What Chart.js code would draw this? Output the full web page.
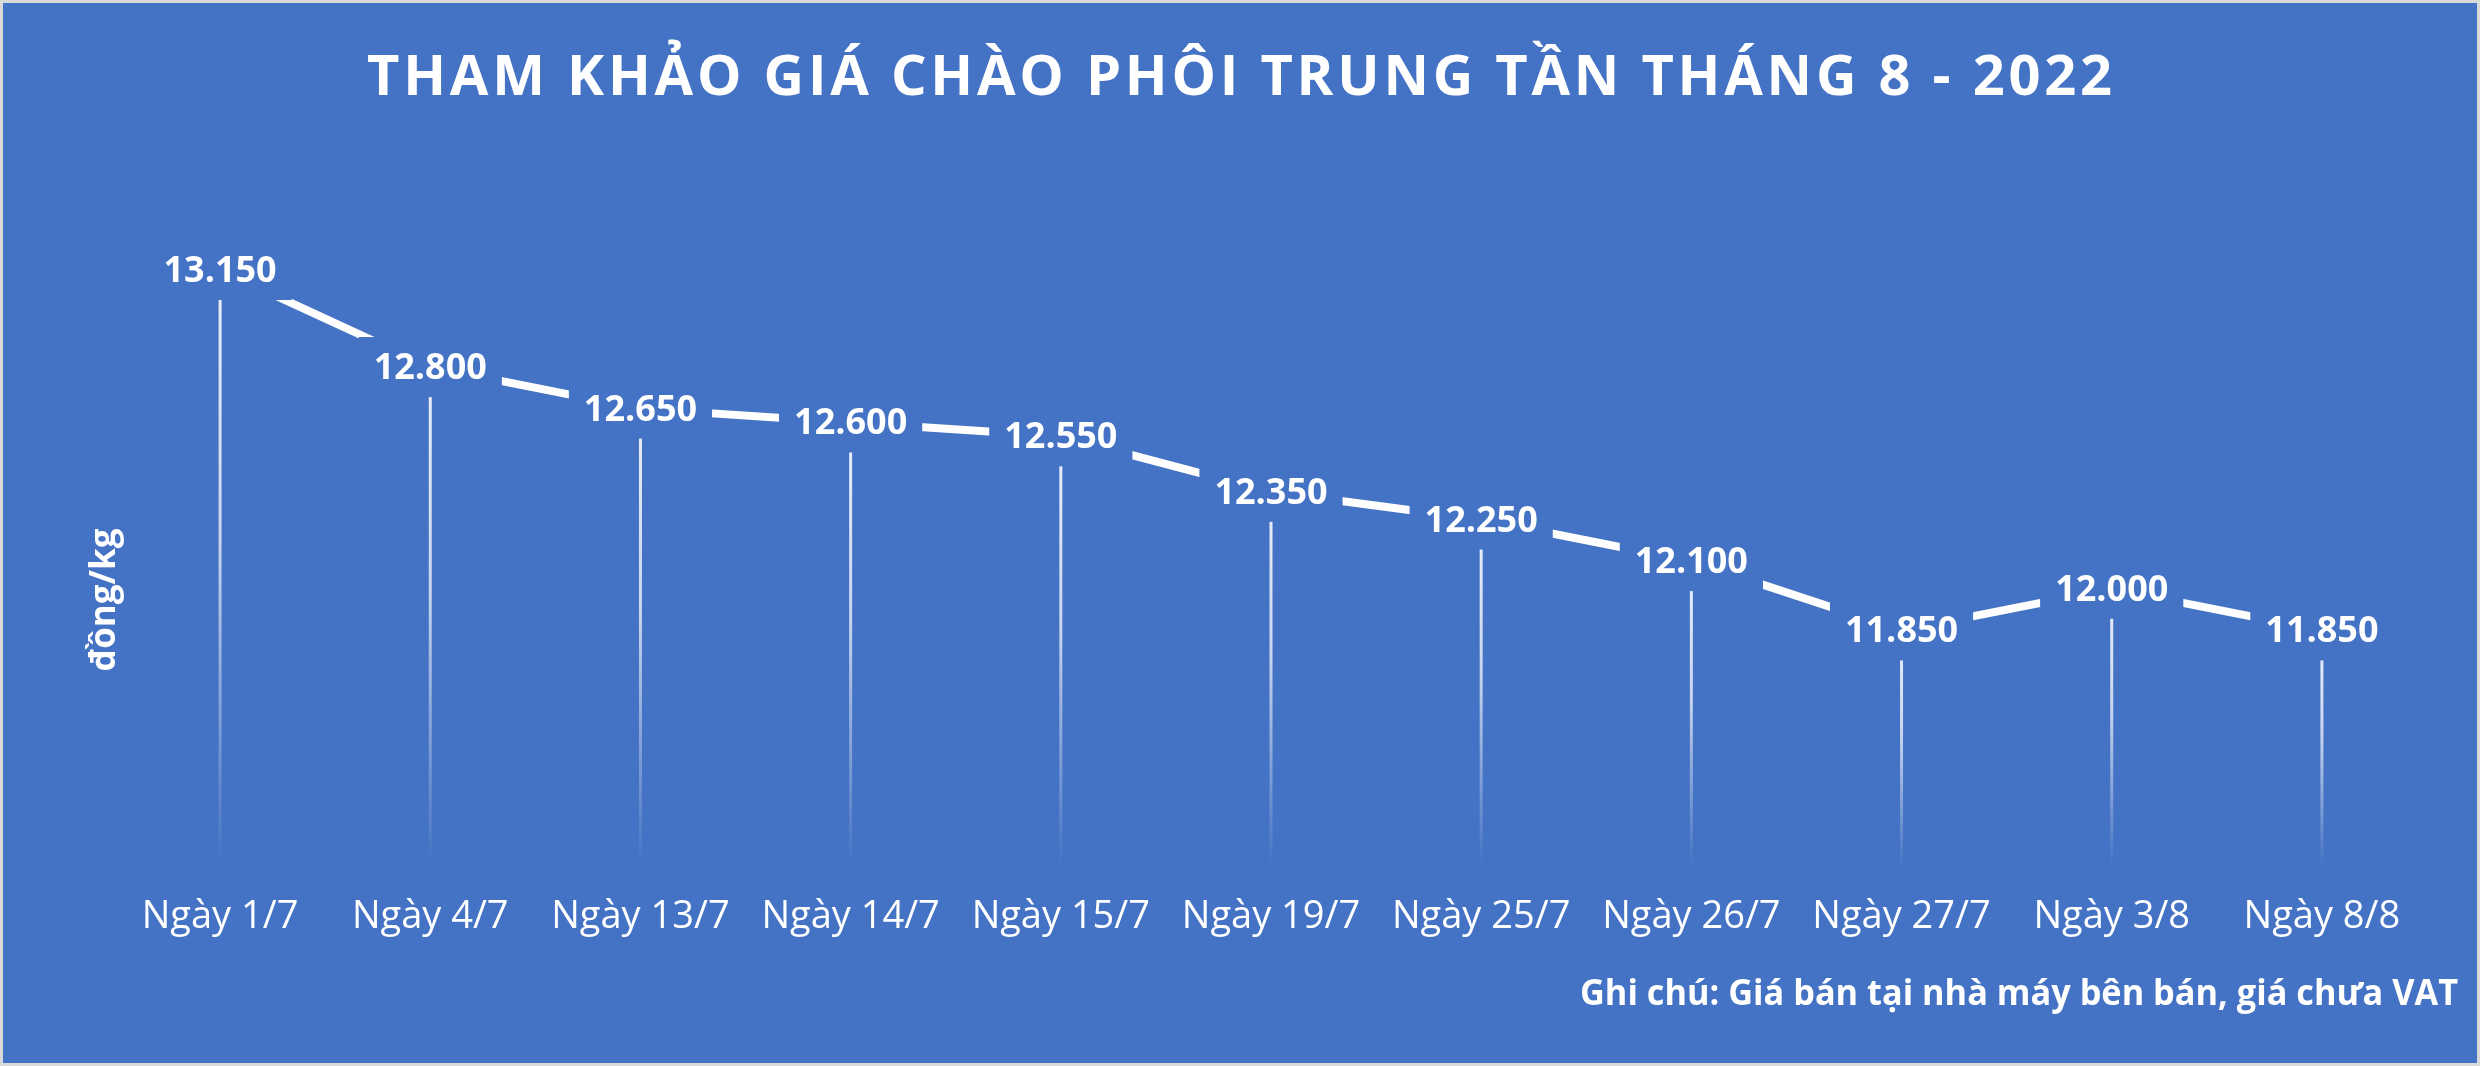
<!DOCTYPE html>
<html>
<head>
<meta charset="utf-8">
<title>Tham khảo giá chào phôi trung tần tháng 8 - 2022</title>
<script src="https://cdn.jsdelivr.net/npm/chart.js@4/dist/chart.umd.min.js"></script>
<style>
  html, body { margin: 0; padding: 0; background: #d9d9d9; }
  canvas { display: block; }
</style>
</head>
<body>
<canvas id="priceChart" width="2480" height="1066"></canvas>
<script>
const categories = ['Ngày 1/7', 'Ngày 4/7', 'Ngày 13/7', 'Ngày 14/7', 'Ngày 15/7', 'Ngày 19/7',
    'Ngày 25/7', 'Ngày 26/7', 'Ngày 27/7', 'Ngày 3/8', 'Ngày 8/8'];
const prices = [13150, 12800, 12650, 12600, 12550, 12350, 12250, 12100, 11850, 12000, 11850];
const yRange = [11000, 13500];

const titleText = 'THAM KHẢO GIÁ CHÀO PHÔI TRUNG TẦN THÁNG 8 - 2022';
const yTitleText = 'đồng/kg';
const noteText = 'Ghi chú: Giá bán tại nhà máy bên bán, giá chưa VAT';

const blueBg = '#4472C4';
const fontFamily = '"Open Sans", "Noto Sans", sans-serif';

// 13150 -> "13.150"
function formatPrice(v) {
    return String(v).replace(/\B(?=(\d{3})+(?!\d))/g, '.');
}

const panelPlugin = {
    id: 'panel',
    beforeDraw(chart) {
        const ctx = chart.ctx;
        ctx.save();
        ctx.fillStyle = '#d9d9d9';
        ctx.fillRect(0, 0, chart.width, chart.height);
        ctx.fillStyle = blueBg;
        ctx.fillRect(3, 3, chart.width - 6, chart.height - 6);
        ctx.restore();
    },
    afterDraw(chart) {
        const ctx = chart.ctx;
        ctx.save();
        ctx.fillStyle = '#ffffff';

        // title, spread out to the reference width
        ctx.font = 'bold 56px ' + fontFamily;
        ctx.textBaseline = 'alphabetic';
        ctx.textAlign = 'left';
        const plain = ctx.measureText(titleText).width;
        const spacing = (1745 - plain) / (titleText.length - 1);
        ctx.letterSpacing = spacing + 'px';
        ctx.fillText(titleText, 367, 95);
        ctx.letterSpacing = '0px';

        // note, bottom right, squeezed a little (reference font is narrower)
        ctx.font = 'bold 36px ' + fontFamily;
        ctx.textAlign = 'right';
        const noteW = ctx.measureText(noteText).width;
        ctx.save();
        ctx.translate(2458, 1005);
        ctx.scale(Math.min(1, 878 / noteW), 1);
        ctx.fillText(noteText, 0, 0);
        ctx.restore();

        // unit, rotated on the left
        ctx.translate(115, 600);
        ctx.rotate(-Math.PI / 2);
        ctx.textAlign = 'center';
        ctx.font = 'bold 35px ' + fontFamily;
        ctx.fillText(yTitleText, 0, 0);
        ctx.restore();
    }
};

const dropLinePlugin = {
    id: 'dropLines',
    beforeDatasetsDraw(chart) {
        const ctx = chart.ctx;
        const bottom = chart.chartArea.bottom;
        ctx.save();
        ctx.lineWidth = 3;
        chart.getDatasetMeta(0).data.forEach(pt => {
            const g = ctx.createLinearGradient(0, pt.y, 0, bottom);
            g.addColorStop(0, 'rgba(255, 255, 255, 0.9)');
            g.addColorStop(0.45, 'rgba(255, 255, 255, 0.7)');
            g.addColorStop(1, 'rgba(255, 255, 255, 0)');
            ctx.strokeStyle = g;
            ctx.beginPath();
            ctx.moveTo(pt.x, pt.y);
            ctx.lineTo(pt.x, bottom);
            ctx.stroke();
        });
        ctx.restore();
    }
};

const valueLabelPlugin = {
    id: 'valueLabels',
    afterDatasetsDraw(chart) {
        const ctx = chart.ctx;
        ctx.save();
        ctx.font = 'bold 36px ' + fontFamily;
        ctx.textAlign = 'center';
        ctx.textBaseline = 'alphabetic';
        chart.getDatasetMeta(0).data.forEach((pt, i) => {
            const text = formatPrice(prices[i]);
            const w = ctx.measureText(text).width;
            ctx.fillStyle = blueBg;
            ctx.fillRect(pt.x - w / 2 - 15, pt.y - 30, w + 30, 60);
            ctx.fillStyle = '#ffffff';
            ctx.fillText(text, pt.x, pt.y + 12);
        });
        ctx.restore();
    }
};

function createPriceChart() {
    const ctx = document.getElementById('priceChart');

    new Chart(ctx, {
        type: 'line',
        data: {
            labels: categories,
            datasets: [{
                label: 'Giá chào',
                data: prices,
                borderColor: '#ffffff',
                borderWidth: 8,
                borderCapStyle: 'butt',
                tension: 0,
                fill: false,
                pointRadius: 0,
                pointHoverRadius: 0
            }]
        },
        options: {
            responsive: false,
            animation: false,
            events: [],
            layout: {
                padding: { top: 173, left: 115, right: 53, bottom: 100 }
            },
            scales: {
                x: {
                    offset: true,
                    grid: { display: false, drawTicks: false },
                    border: { display: false },
                    ticks: {
                        color: '#ffffff',
                        padding: 28,
                        maxRotation: 0,
                        autoSkip: false,
                        font: { family: fontFamily, size: 38 }
                    },
                    afterFit: scale => { scale.height = 100; }
                },
                y: {
                    display: false,
                    min: yRange[0],
                    max: yRange[1]
                }
            },
            plugins: {
                legend: { display: false },
                tooltip: { enabled: false }
            }
        },
        plugins: [panelPlugin, dropLinePlugin, valueLabelPlugin]
    });
}

Promise.all([
    document.fonts.load('bold 56px "Open Sans"'),
    document.fonts.load('38px "Open Sans"')
]).then(createPriceChart, createPriceChart);
</script>
</body>
</html>
